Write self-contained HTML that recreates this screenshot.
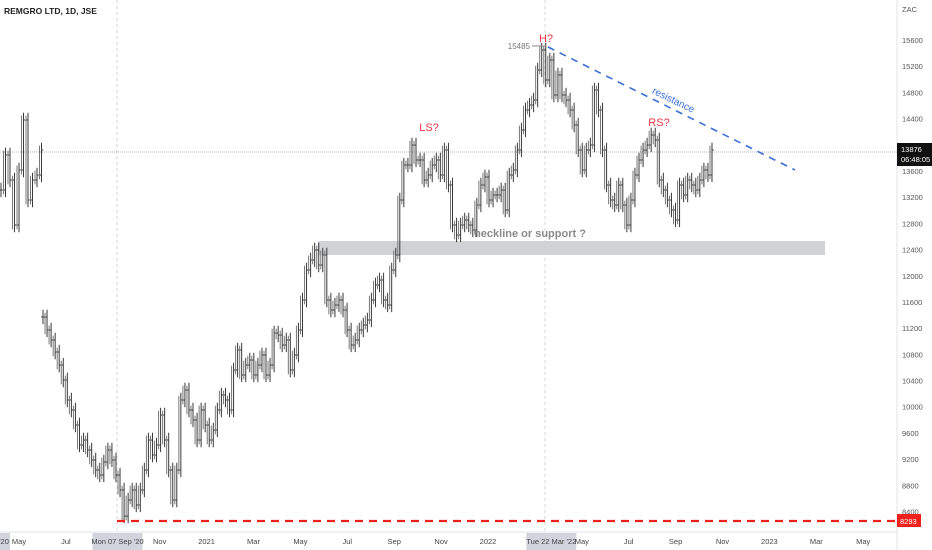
<!DOCTYPE html>
<html><head><meta charset="utf-8"><style>
body{margin:0;background:#fff;font-family:"Liberation Sans",sans-serif;}
svg{display:block}
</style></head><body>
<svg id="c" width="932" height="550" xmlns="http://www.w3.org/2000/svg">
<rect width="932" height="550" fill="#fff"/>
<line x1="117" y1="0" x2="117" y2="532" stroke="#d6d6d6" stroke-dasharray="3,3"/>
<line x1="545" y1="0" x2="545" y2="532" stroke="#d6d6d6" stroke-dasharray="3,3"/>
<rect x="318" y="241" width="507" height="14" fill="#d1d2d6"/>
<line x1="0" y1="152" x2="897" y2="152" stroke="#9a9a9a" stroke-width="0.8" stroke-dasharray="1,1"/>
<g id="bars"></g>
<line x1="117" y1="521" x2="897" y2="521" stroke="#f0201c" stroke-width="2.2" stroke-dasharray="8,6"/>
<line x1="548" y1="47" x2="795" y2="170" stroke="#3a6fd8" stroke-width="1.6" stroke-dasharray="7,6"/>
<text x="672" y="103" font-size="10" fill="#3a6fd8" transform="rotate(26 672 103)" text-anchor="middle">resistance</text>
<text x="530" y="237" font-size="11" font-weight="bold" fill="#8a8a8a" text-anchor="middle">neckline or support ?</text>
<text x="546" y="42" font-size="11" fill="#f23645" text-anchor="middle">H?</text>
<text x="429" y="131" font-size="11" fill="#f23645" text-anchor="middle">LS?</text>
<text x="659" y="126" font-size="11" fill="#f23645" text-anchor="middle">RS?</text>
<text x="530" y="49" font-size="8" fill="#777" text-anchor="end">15485</text>
<line x1="532" y1="46" x2="545" y2="46" stroke="#888"/>
<text x="4" y="14" font-size="8.5" font-weight="bold" fill="#222">REMGRO LTD, 1D, JSE</text>
<line x1="897" y1="0" x2="897" y2="550" stroke="#e0e3eb"/>
<line x1="0" y1="532" x2="897" y2="532" stroke="#e0e3eb"/>
<text x="902" y="12" font-size="7.5" fill="#555">ZAC</text>
<g id="yticks"></g>
<g id="xticks"></g>
<rect x="897" y="143" width="35" height="23" fill="#111"/>
<text x="901" y="152" font-size="7.5" fill="#fff">13876</text>
<text x="901" y="162" font-size="7.5" fill="#fff">06:48:05</text>
<rect x="897" y="514" width="24" height="13" fill="#f0201c"/>
<text x="900" y="524" font-size="7.5" fill="#fff">8293</text>
</svg>
<script>
const seg1Closes=[13310,13844,13462,12775,13615,14379,13157,13462,13539,13921];
const seg2Closes=[11370,11172,11019,10836,10637,10408,10103,9950,9721,9416,9492,9340,9187,9034,8958,9156,9340,9187,8958,8729,8330,8576,8729,8500,8729,9034,9492,9263,9416,9874,9492,9034,8576,9034,10103,10256,9950,9798,9492,9950,9721,9492,9645,9950,10179,10103,9950,10561,10866,
10485,10637,10714,10485,10637,10790,10485,10637,11126,11096,10943,11019,10561,10790,11172,11630,12088,12241,12394,12164,12317,11630,11477,11554,11630,11477,11172,10943,11019,11172,11248,11325,11630,11859,11935,11630,11554,12088,12317,13157,13691,13691,13997,13768,13768,13462,13539,13691,13768,13539,13921,13386,12775,12623,12775,12852,12775,12699,13081,13386,13508,13157,13233,13233,13310,13004,13539,13615,13921,14226,14531,14607,14684,15142,15447,14989,15295,14760,15066,14760,14684,14531,14302,13921,13615,13921,13997,14837,14531,13921,13386,13157,13081,13386,13081,12775,13157,13539,13768,13921,13997,14150,14073,13462,13310,13157,13004,12852,13386,13233,13462,13386,13310,13462,13615,13539,13921];
const priceTicks=[15600,15200,14800,14400,14000,13600,13200,12800,12400,12000,11600,11200,10800,10400,10000,9600,9200,8800,8400];
const timeLabels=["'20","May","Jul","Mon 07 Sep '20","Nov","2021","Mar","May","Jul","Sep","Nov","2022","Tue 22 Mar '22","May","Jul","Sep","Nov","2023","Mar","May"];
const timeMonths=[-1.2,0,2,4.2,6,8,10,12,14,16,18,20,22.7,24,26,28,30,32,34,36];
const spread=110;
const NS="http://www.w3.org/2000/svg";
function yScale(v){return 40+(15600-v)/15.27;}
function xMonth(m){return 19+m*23.45;}
function x1(i){return 1+i*4.5;}
function x2(i){return 43+i*669/(seg2Closes.length-1);}
const g=document.getElementById('bars');
function drawSeg(arr,xf){
  for(let i=0;i<arr.length;i++){
    const c=arr[i], o=i>0?arr[i-1]:c;
    const hi=Math.max(o,c)+spread, lo=Math.min(o,c)-spread;
    const x=xf(i);
    const p=document.createElementNS(NS,'path');
    p.setAttribute('d',`M${x},${yScale(hi)}V${yScale(lo)}M${x-1.8},${yScale(o)}H${x}M${x},${yScale(c)}H${x+1.8}`);
    p.setAttribute('stroke','#3a3a3a');p.setAttribute('stroke-width','1');p.setAttribute('fill','none');
    
    
    g.appendChild(p);
    if(i>0){
      const m=(o+c)/2, xm=x-2;
      const q=document.createElementNS(NS,'line');
      q.setAttribute('x1',xm);q.setAttribute('x2',xm);
      q.setAttribute('y1',yScale(Math.max(o,c)+spread*0.6));q.setAttribute('y2',yScale(Math.min(o,c)-spread*0.6));
      q.setAttribute('stroke','#777');q.setAttribute('stroke-width','1');
      
      
      g.appendChild(q);
    }
  }
}
drawSeg(seg1Closes,x1);
drawSeg(seg2Closes,x2);
const yt=document.getElementById('yticks');
priceTicks.forEach(v=>{
  const t=document.createElementNS(NS,'text');
  t.setAttribute('x',902);t.setAttribute('y',yScale(v)+3);
  t.setAttribute('font-size','7.5');t.setAttribute('fill','#555');
  t.textContent=v;
  
  
  yt.appendChild(t);
});
const xt=document.getElementById('xticks');
timeLabels.forEach((s,i)=>{
  const x=xMonth(timeMonths[i]);
  const hl=s.length>4;
  if(hl||s==="'20"){
    const w=hl?50:10;
    const r=document.createElementNS(NS,'rect');
    r.setAttribute('x',s==="'20"?0:x-w/2);r.setAttribute('y',533);r.setAttribute('width',w);r.setAttribute('height',17);
    r.setAttribute('fill','#d1d4dc');
    
    
    xt.appendChild(r);
  }
  const t=document.createElementNS(NS,'text');
  t.setAttribute('x',s==="'20"?4:x);t.setAttribute('y',544);
  t.setAttribute('font-size','7.5');t.setAttribute('fill','#444');t.setAttribute('text-anchor','middle');
  t.textContent=s;
  
  
  xt.appendChild(t);
});
</script>
</body></html>
